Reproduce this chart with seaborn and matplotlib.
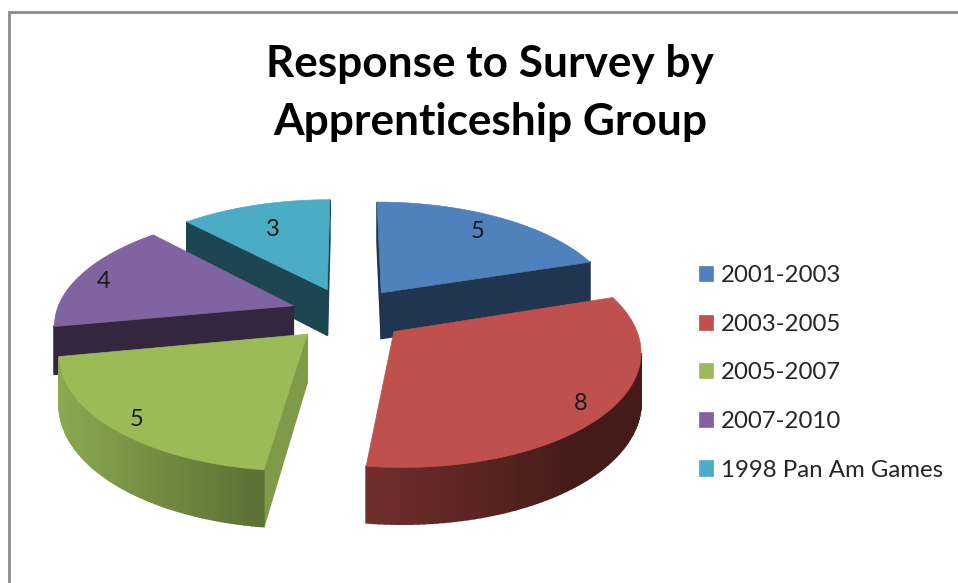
import numpy as np
import matplotlib
matplotlib.use("Agg")
import matplotlib.pyplot as plt
from matplotlib.patches import Patch
from matplotlib.lines import Line2D
import seaborn as sns

# Survey data
groups = ["2001-2003", "2003-2005", "2005-2007", "2007-2010", "1998 Pan Am Games"]
responses = [5, 8, 5, 4, 3]
title_text = "Response to Survey by\nApprenticeship Group"

# Slice colours: top face, flat cut wall, curved wall left and right shades
top_colors = ["#4f81bd", "#c0504d", "#9bbb59", "#8064a2", "#4bacc6"]
cut_colors = ["#1f3550", "#4a1e1c", "#7f9b4a", "#35263f", "#1d4652"]
wall_light = ["#1f3550", "#702e2c", "#8aa84f", "#35263f", "#1d4652"]
wall_dark = ["#1f3550", "#451b19", "#5d7236", "#35263f", "#1d4652"]

# Projection of the tilted pie onto the canvas (pixels)
CX, CY = 348.0, 314.0
SCALE_X, SCALE_Y = 237.5, 110.0
PERSPECTIVE = 0.148
THICKNESS = 47.0
EXPLODE = 0.245
LABEL_POS = [(478, 232), (581, 404), (137, 420), (104, 281), (273, 229)]
DRAW_ORDER = [4, 0, 3, 2, 1]

sns.set_theme(style="white")
plt.rcParams["font.family"] = ["Lato", "DejaVu Sans"]

fig = plt.figure(figsize=(9.58, 5.83), dpi=100, facecolor="white")
ax = fig.add_axes([0, 0, 1, 1])
ax.set_xlim(0, 958)
ax.set_ylim(583, 0)
ax.axis("off")


def project(x, y):
    s = 1.0 / (1.0 + PERSPECTIVE * y)
    return CX + SCALE_X * x * s, CY - SCALE_Y * y * s, THICKNESS * s


values = np.asarray(responses, dtype=float)
sweep = values / values.sum() * 360.0
starts = 90.0 - np.concatenate(([0.0], np.cumsum(sweep)[:-1]))


def outline(i):
    """Slice outline, clockwise on screen, as projected x, y and depth."""
    mid = np.radians(starts[i] - sweep[i] / 2)
    ox, oy = EXPLODE * np.cos(mid), EXPLODE * np.sin(mid)
    th = np.radians(np.linspace(starts[i], starts[i] - sweep[i], 90))
    px = np.concatenate(([ox], ox + np.cos(th), [ox]))
    py = np.concatenate(([oy], oy + np.sin(th), [oy]))
    return project(px, py)


for i in DRAW_ORDER:
    X, Y, D = outline(i)
    shades = sns.blend_palette([wall_light[i], wall_dark[i]], 64)
    xmin, xmax = X.min(), X.max()
    n = len(X) - 1
    for k in range(n):
        # Only edges running leftwards on screen face the viewer
        if X[k + 1] >= X[k]:
            continue
        if k == 0 or k == n - 1:
            color = cut_colors[i]
        else:
            u = ((X[k] + X[k + 1]) / 2 - xmin) / max(xmax - xmin, 1.0)
            color = shades[int(np.clip(u * 1.3, 0, 1) * 63)]
        ax.fill(
            [X[k], X[k + 1], X[k + 1], X[k]],
            [Y[k], Y[k + 1], Y[k + 1] + D[k + 1], Y[k] + D[k]],
            facecolor=color, edgecolor=color, linewidth=1.2, zorder=2,
        )
    ax.fill(X, Y, facecolor=top_colors[i], edgecolor=top_colors[i],
            linewidth=0.5, zorder=2)

for value, (lx, ly) in zip(responses, LABEL_POS):
    ax.text(lx, ly, str(value), ha="center", va="center", fontsize=17,
            color="#1a1a1a", zorder=3)

ax.text(490, 93, title_text, ha="center", va="center", fontsize=31.8,
        fontweight="bold", color="black", linespacing=1.52)

# Chart frame: visible along the left and top edges
ax.add_line(Line2D([9.5, 9.5, 958], [583, 11.5, 11.5], color="#8c8c8c", lw=2.0,
                   solid_joinstyle="miter"))

handles = [Patch(facecolor=c, edgecolor=c, linewidth=0.5) for c in top_colors]
ax.legend(handles, groups, loc="upper left", bbox_to_anchor=(699 / 958, 1 - 265 / 583),
          frameon=False, fontsize=17.3, labelspacing=1.15, handlelength=0.6,
          handleheight=0.6, handletextpad=0.3, borderpad=0, borderaxespad=0,
          labelcolor="#262626")

fig.savefig("out.png", dpi=100)
